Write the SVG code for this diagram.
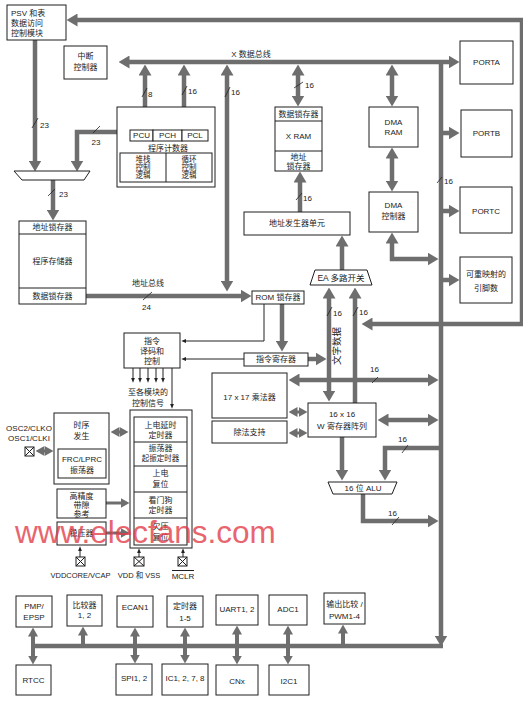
<svg xmlns="http://www.w3.org/2000/svg" width="523" height="704" viewBox="0 0 523 704">
<style>
.b{fill:#fff;stroke:#1e1e1e;stroke-width:1}
.nb{fill:none;stroke:#1e1e1e;stroke-width:1}
.k{fill:none;stroke:#6e6e6e;stroke-width:4.5}
.km{fill:none;stroke:#6e6e6e;stroke-width:3}
.kb{fill:none;stroke:#6e6e6e;stroke-width:4}
.th{fill:none;stroke:#222;stroke-width:1}
.sl{stroke:#222;stroke-width:0.8}
text{font-family:"Liberation Sans","Noto Sans CJK SC",sans-serif;font-size:8px;fill:#222}
.c{text-anchor:middle;dominant-baseline:central}
.l{dominant-baseline:central}
.s7{font-size:7.5px}
.wm{font-size:31.5px;fill:#e23a48;opacity:0.78}
</style>
<defs>
<marker id="A" viewBox="0 0 11 13" refX="0.5" refY="6.5" markerWidth="11" markerHeight="13" markerUnits="userSpaceOnUse" orient="auto-start-reverse"><path d="M0,0L11,6.5L0,13z" fill="#6e6e6e"/></marker>
<marker id="M" viewBox="0 0 9 10" refX="0.5" refY="5" markerWidth="9" markerHeight="10" markerUnits="userSpaceOnUse" orient="auto-start-reverse"><path d="M0,0L9,5L0,10z" fill="#6e6e6e"/></marker>
<marker id="S" viewBox="0 0 5 4" refX="0.3" refY="2" markerWidth="5" markerHeight="4" markerUnits="userSpaceOnUse" orient="auto-start-reverse"><path d="M0,0L5,2L0,4z" fill="#222"/></marker>
</defs>

<g id="connectors">
<path class="k" d="M372,324H522V20H77" marker-start="url(#A)" marker-end="url(#A)"/>
<path class="k" d="M129,62H449" marker-start="url(#A)" marker-end="url(#A)"/>
<path class="k" d="M441,60V636" marker-end="url(#A)"/>
<path class="k" d="M31,646H443"/>
<path class="k" d="M441,133H449" marker-end="url(#A)"/>
<path class="k" d="M441,211H449" marker-end="url(#A)"/>
<path class="k" d="M441,280H449" marker-end="url(#A)"/>
<path class="k" d="M392,75V96" marker-start="url(#A)" marker-end="url(#A)"/>
<path class="k" d="M392,158V181" marker-start="url(#A)" marker-end="url(#A)"/>
<path class="k" d="M392,243V259H428" marker-start="url(#A)" marker-end="url(#A)"/>
<path class="k" d="M298,75V96" marker-start="url(#A)" marker-end="url(#A)"/>
<path class="k" d="M300,212V182" marker-end="url(#A)"/>
<path class="k" d="M342,270V246" marker-end="url(#A)"/>
<path class="k" d="M329,298V391" marker-start="url(#A)" marker-end="url(#A)"/>
<path class="k" d="M355,403V298" marker-end="url(#A)"/>
<path class="k" d="M308,359H316" marker-end="url(#A)"/>
<path class="k" d="M282,304V341" marker-end="url(#A)"/>
<path class="k" d="M86,296H241" marker-end="url(#A)"/>
<path class="k" d="M227,75V281" marker-start="url(#A)" marker-end="url(#A)"/>
<path class="k" d="M145,75V119" marker-start="url(#A)" marker-end="url(#A)"/>
<path class="k" d="M184,75V119" marker-start="url(#A)" marker-end="url(#A)"/>
<path class="k" d="M35,40V161" marker-end="url(#A)"/>
<path class="k" d="M118,132H77V161" marker-end="url(#A)"/>
<path class="k" d="M53,180V210" marker-end="url(#A)"/>
<path class="k" d="M342,437V470" marker-end="url(#A)"/>
<path class="k" d="M441,448H385V470" marker-end="url(#A)"/>
<path class="k" d="M363,494V521H428" marker-end="url(#A)"/>
<path class="k" d="M299,380H428" marker-start="url(#A)" marker-end="url(#A)"/>
<path class="k" d="M388,420H428" marker-start="url(#A)" marker-end="url(#A)"/>
<path class="km" d="M297,412H299" marker-start="url(#M)" marker-end="url(#M)"/>
<path class="km" d="M297,433H299" marker-start="url(#M)" marker-end="url(#M)"/>
<path class="km" d="M119,432H120" marker-start="url(#M)" marker-end="url(#M)"/>
<path class="km" d="M44,451H45" marker-start="url(#M)" marker-end="url(#M)"/>
<path class="km" d="M106,503H121" marker-end="url(#M)"/>
<path class="km" d="M106,533H121" marker-end="url(#M)"/>
<path class="kb" d="M33,636V656" marker-start="url(#M)" marker-end="url(#M)"/>
<path class="kb" d="M135,636V655" marker-start="url(#M)" marker-end="url(#M)"/>
<path class="kb" d="M185,636V655" marker-start="url(#M)" marker-end="url(#M)"/>
<path class="kb" d="M237,634V656" marker-start="url(#M)" marker-end="url(#M)"/>
<path class="kb" d="M288,634V656" marker-start="url(#M)" marker-end="url(#M)"/>
<path class="kb" d="M83,646V635" marker-end="url(#M)"/>
<path class="kb" d="M343,646V633" marker-end="url(#M)"/>
<path class="th" d="M264,304V341H186" marker-end="url(#S)"/>
<path class="th" d="M244,359H186" marker-end="url(#S)"/>
<path class="th" d="M172,368V404" marker-end="url(#S)"/>
<path class="th" d="M133,368V378" marker-end="url(#S)"/>
<path class="th" d="M140,368V378" marker-end="url(#S)"/>
<path class="th" d="M148,368V378" marker-end="url(#S)"/>
<path class="th" d="M156,368V378" marker-end="url(#S)"/>
<path class="th" d="M163,368V378" marker-end="url(#S)"/>
<path class="th" d="M80,557V551" marker-end="url(#S)"/>
<path class="th" d="M139,557V553" marker-end="url(#S)"/>
<path class="th" d="M183,557V553" marker-end="url(#S)"/>
</g>

<g id="bus-labels">
<text class="c" x="251" y="54">X 数据总线</text>
<text class="c" x="148" y="283">地址总线</text>
<line class="sl" x1="32" y1="128" x2="38" y2="118"/><text class="l" x="40" y="125">23</text>
<line class="sl" x1="93" y1="133" x2="100" y2="126"/><text class="c" x="96" y="142">23</text>
<line class="sl" x1="48" y1="196" x2="55" y2="189"/><text class="l" x="59" y="194">23</text>
<line class="sl" x1="142" y1="97" x2="147" y2="88"/><text class="l" x="148" y="94">8</text>
<line class="sl" x1="182" y1="95" x2="187" y2="86"/><text class="l" x="188" y="91">16</text>
<line class="sl" x1="225" y1="97" x2="230" y2="87"/><text class="l" x="231" y="92">16</text>
<line class="sl" x1="294" y1="88" x2="303" y2="82"/><text class="l" x="305" y="85">16</text>
<line class="sl" x1="296" y1="200" x2="302" y2="193"/><text class="l" x="303" y="198">16</text>
<line class="sl" x1="327" y1="316" x2="332" y2="307"/><text class="l" x="333" y="313">16</text>
<line class="sl" x1="353" y1="316" x2="358" y2="307"/><text class="l" x="359" y="312">16</text>
<line class="sl" x1="437" y1="183" x2="442" y2="177"/><text class="l" x="444" y="181">16</text>
<line class="sl" x1="372" y1="383" x2="378" y2="377"/><text class="l" x="370" y="369">16</text>
<line class="sl" x1="402" y1="453" x2="408" y2="445"/><text class="l" x="398" y="439">16</text>
<line class="sl" x1="392" y1="525" x2="399" y2="517"/><text class="l" x="388" y="513">16</text>
<line class="sl" x1="143" y1="300" x2="152" y2="292"/><text class="l" x="142" y="307">24</text>
<text class="c" transform="translate(336,346) rotate(-90)" style="font-size:9.5px">文字数据</text>
<text class="c" x="148" y="392">至各模块的</text>
<text class="c" x="148" y="403">控制信号</text>
</g>

<g id="psv"><rect class="b" x="7" y="5" width="59" height="35"/><text class="l" x="11" y="13">PSV 和表</text><text class="l" x="11" y="23">数据访问</text><text class="l" x="11" y="33">控制模块</text></g>
<g id="int"><rect class="b" x="64" y="46" width="43" height="33"/><text class="c" x="85.5" y="56">中断</text><text class="c" x="85.5" y="67">控制器</text></g>
<g id="pc">
<rect class="b" x="117" y="107" width="98" height="80"/>
<rect class="b" x="130" y="130" width="23" height="11"/><rect class="b" x="153" y="130" width="29" height="11"/><rect class="b" x="182" y="130" width="26" height="11"/>
<text class="c" x="141.5" y="135.5">PCU</text><text class="c" x="167.5" y="135.5">PCH</text><text class="c" x="195" y="135.5">PCL</text>
<text class="c" x="168" y="148">程序计数器</text>
<rect class="b" x="120" y="153" width="92" height="29"/><line class="nb" x1="166" y1="153" x2="166" y2="182"/>
<text class="c s7" x="143" y="159">堆栈</text><text class="c s7" x="143" y="167">控制</text><text class="c s7" x="143" y="175">逻辑</text>
<text class="c s7" x="189" y="159">循环</text><text class="c s7" x="189" y="167">控制</text><text class="c s7" x="189" y="175">逻辑</text>
</g>
<g id="mux"><polygon class="b" points="14,171 90,171 84,180 22,180"/></g>
<g id="progmem"><rect class="b" x="19" y="221" width="67" height="83"/><line class="nb" x1="19" y1="234" x2="86" y2="234"/><line class="nb" x1="19" y1="288" x2="86" y2="288"/>
<text class="c" x="52.5" y="227.5">地址锁存器</text><text class="c" x="52.5" y="261">程序存储器</text><text class="c" x="52.5" y="296">数据锁存器</text></g>
<g id="romlatch"><rect class="b" x="252" y="291" width="52" height="13"/><text class="c" x="278" y="297.5">ROM 锁存器</text></g>
<g id="xram"><rect class="b" x="275" y="107" width="47" height="64"/><line class="nb" x1="275" y1="121" x2="322" y2="121"/><line class="nb" x1="275" y1="151" x2="322" y2="151"/>
<text class="c" x="298.5" y="114">数据锁存器</text><text class="c" x="298.5" y="136">X RAM</text><text class="c" x="298.5" y="157">地址</text><text class="c" x="298.5" y="166">锁存器</text></g>
<g id="agu"><rect class="b" x="244" y="212" width="106" height="23"/><text class="c" x="297" y="223.5">地址发生器单元</text></g>
<g id="eamux"><polygon class="b" points="315,270 367,270 372,285 310,285"/><text class="c" x="341" y="278" style="font-size:8.5px">EA 多路开关</text></g>
<g id="dmaram"><rect class="b" x="369" y="107" width="49" height="40"/><text class="c" x="393.5" y="122">DMA</text><text class="c" x="393.5" y="132">RAM</text></g>
<g id="dmactl"><rect class="b" x="369" y="192" width="49" height="40"/><text class="c" x="393.5" y="205">DMA</text><text class="c" x="393.5" y="216">控制器</text></g>
<g id="porta"><rect class="b" x="460" y="41" width="53" height="43"/><text class="c" x="486.5" y="62.5">PORTA</text></g>
<g id="portb"><rect class="b" x="461" y="110" width="51" height="47"/><text class="c" x="486.5" y="133.5">PORTB</text></g>
<g id="portc"><rect class="b" x="460" y="187" width="52" height="46"/><text class="c" x="486" y="211">PORTC</text></g>
<g id="remap"><rect class="b" x="460" y="257" width="52" height="46"/><text class="c" x="486" y="274">可重映射的</text><text class="c" x="486" y="288">引脚数</text></g>
<g id="decode"><rect class="b" x="124" y="333" width="56" height="35"/><text class="c" x="152" y="341">指令</text><text class="c" x="152" y="351">译码和</text><text class="c" x="152" y="361">控制</text></g>
<g id="ireg"><rect class="b" x="244" y="353" width="64" height="13"/><text class="c" x="276" y="359.5">指令寄存器</text></g>
<g id="mult"><rect class="b" x="212" y="373" width="75" height="45"/><text class="c" x="249.5" y="397">17 x 17 乘法器</text></g>
<g id="div"><rect class="b" x="212" y="421" width="75" height="22"/><text class="c" x="249.5" y="432.5">除法支持</text></g>
<g id="wreg"><rect class="b" x="308" y="403" width="68" height="34"/><text class="c" x="342" y="414">16 x 16</text><text class="c" x="342" y="426">W 寄存器阵列</text></g>
<g id="alu"><polygon class="b" points="328,482 397,482 392,494 333,494"/><text class="c" x="363" y="488.5">16 位 ALU</text></g>
<g id="timers">
<rect class="b" x="130" y="410" width="62" height="138"/>
<rect class="b" x="134" y="417" width="53" height="128"/>
<line class="nb" x1="134" y1="442" x2="187" y2="442"/><line class="nb" x1="134" y1="466" x2="187" y2="466"/><line class="nb" x1="134" y1="492" x2="187" y2="492"/><line class="nb" x1="134" y1="518" x2="187" y2="518"/>
<text class="c" x="160.5" y="425">上电延时</text><text class="c" x="160.5" y="435">定时器</text>
<text class="c" x="160.5" y="448">振荡器</text><text class="c s7" x="160.5" y="458">起振定时器</text>
<text class="c" x="160.5" y="473">上电</text><text class="c" x="160.5" y="484">复位</text>
<text class="c" x="160.5" y="500">看门狗</text><text class="c" x="160.5" y="510">定时器</text>
<text class="c" x="160.5" y="526">欠压</text><text class="c" x="160.5" y="537">复位</text>
</g>
<g id="timing"><rect class="b" x="54" y="413" width="55" height="71"/><text class="c" x="81.5" y="425">时序</text><text class="c" x="81.5" y="436">发生</text>
<rect class="b" x="58" y="449" width="48" height="29"/><text class="c" x="82" y="459">FRC/LPRC</text><text class="c" x="82" y="470">振荡器</text></g>
<g id="bandgap"><rect class="b" x="57" y="489" width="49" height="29"/><text class="c" x="81.5" y="496">高精度</text><text class="c" x="81.5" y="505">带隙</text><text class="c" x="81.5" y="514">参考</text></g>
<g id="vreg"><rect class="b" x="57" y="522" width="49" height="23"/><text class="c" x="81.5" y="533.5">稳压器</text></g>
<g id="osc"><text class="c" x="29" y="428">OSC2/CLKO</text><text class="c" x="29" y="438">OSC1/CLKI</text>
<rect class="b" x="25" y="447" width="9" height="9"/><path class="nb" d="M25,447L34,456M34,447L25,456"/></g>
<g id="pin-vcap"><rect class="b" x="76" y="557" width="9" height="9"/><path class="nb" d="M76,557L85,566M85,557L76,566"/><text class="c" x="80.5" y="575" style="font-size:7.5px">VDDCORE/VCAP</text></g>
<g id="pin-vdd"><rect class="b" x="134" y="557" width="10" height="9"/><path class="nb" d="M134,557L144,566M144,557L134,566"/><text class="c" x="139" y="575" style="font-size:7.5px">VDD 和 VSS</text></g>
<g id="pin-mclr"><rect class="b" x="178" y="557" width="9" height="9"/><path class="nb" d="M178,557L187,566M187,557L178,566"/><text class="c" x="183" y="576">MCLR</text><line class="nb" x1="172" y1="570.5" x2="194" y2="570.5"/></g>
<g id="pmp"><rect class="b" x="16" y="596" width="36" height="31"/><text class="c" x="34" y="606">PMP/</text><text class="c" x="34" y="617">EPSP</text></g>
<g id="cmp"><rect class="b" x="67" y="595" width="35" height="31"/><text class="c" x="84.5" y="605">比较器</text><text class="c" x="84.5" y="615">1, 2</text></g>
<g id="ecan"><rect class="b" x="117" y="596" width="36" height="31"/><text class="c" x="135" y="607">ECAN1</text></g>
<g id="tmr"><rect class="b" x="167" y="596" width="36" height="31"/><text class="c" x="185" y="606">定时器</text><text class="c" x="185" y="618">1-5</text></g>
<g id="uart"><rect class="b" x="216" y="595" width="42" height="30"/><text class="c" x="237" y="609">UART1, 2</text></g>
<g id="adc"><rect class="b" x="269" y="595" width="38" height="30"/><text class="c" x="288" y="609">ADC1</text></g>
<g id="oc"><rect class="b" x="324" y="593" width="41" height="31"/><text class="c" x="344.5" y="604">输出比较 /</text><text class="c" x="344.5" y="616">PWM1-4</text></g>
<g id="rtcc"><rect class="b" x="16" y="665" width="35" height="30"/><text class="c" x="33.5" y="680">RTCC</text></g>
<g id="spi"><rect class="b" x="116" y="664" width="36" height="31"/><text class="c" x="134" y="678">SPI1, 2</text></g>
<g id="ic"><rect class="b" x="162" y="664" width="46" height="31"/><text class="c" x="185" y="678">IC1, 2, 7, 8</text></g>
<g id="cnx"><rect class="b" x="216" y="665" width="42" height="30"/><text class="c" x="237" y="681">CNx</text></g>
<g id="i2c"><rect class="b" x="269" y="665" width="40" height="30"/><text class="c" x="289" y="681">I2C1</text></g>
<text class="wm" x="15" y="543">www.elecfans.com</text>
</svg>
